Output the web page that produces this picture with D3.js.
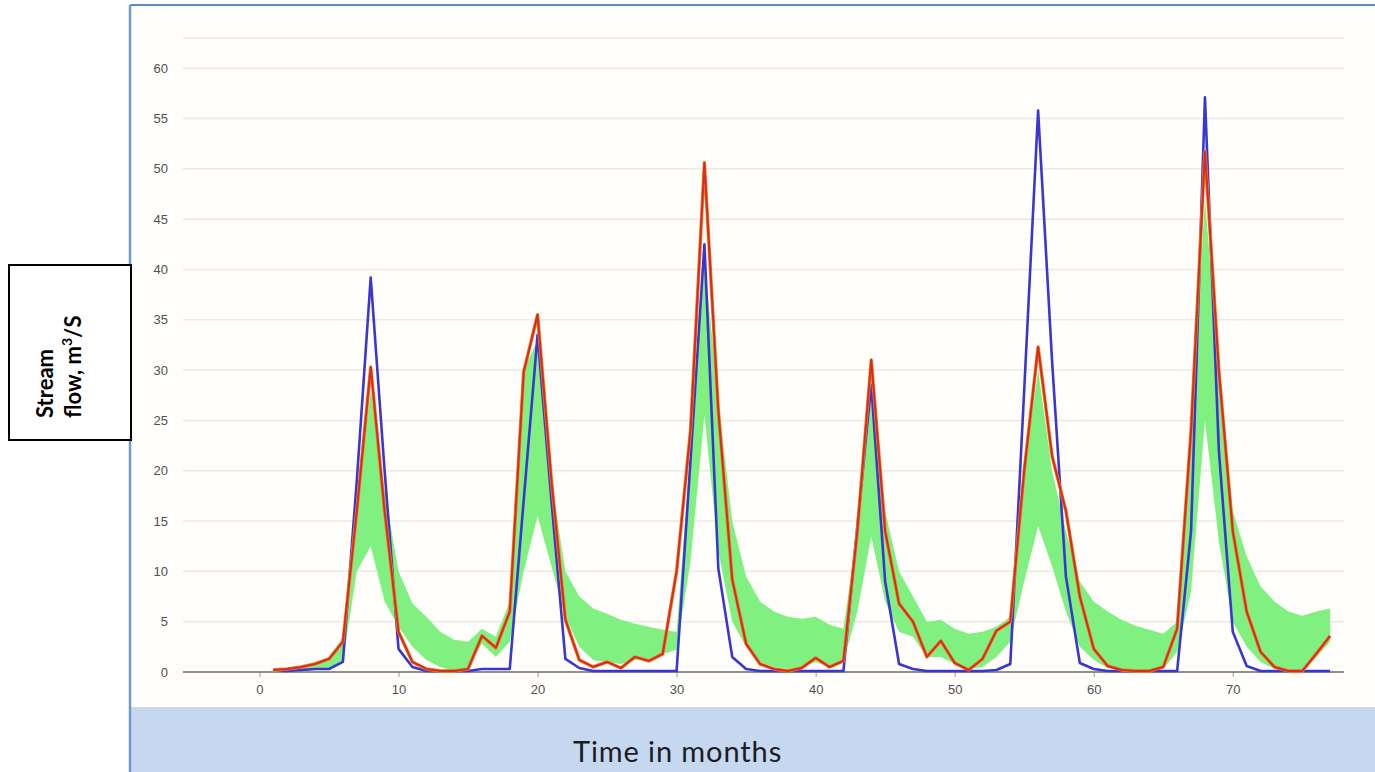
<!DOCTYPE html>
<html>
<head>
<meta charset="utf-8">
<script src="https://cdn.jsdelivr.net/npm/d3@7"></script>
<style>
  html, body { margin: 0; padding: 0; background: #ffffff; }
  svg { display: block; }
</style>
</head>
<body>
<svg id="chart" width="1375" height="772"></svg>
<script>
// ---------- DATA (months 1..77) ----------
const months = d3.range(1, 78);

const observed = [
  0.2, 0.1, 0.2, 0.3, 0.3, 1.0, 19, 39.2, 20, 2.3,
  0.5, 0.1, 0.1, 0.1, 0.1, 0.3, 0.3, 0.3, 17, 33.5,
  17, 1.3, 0.4, 0.1, 0.1, 0.1, 0.1, 0.1, 0.1, 0.1,
  21, 42.5, 10.3, 1.5, 0.3, 0.1, 0.1, 0.1, 0.1, 0.1,
  0.1, 0.1, 14.5, 28.5, 9, 0.8, 0.3, 0.1, 0.1, 0.1,
  0.1, 0.1, 0.2, 0.8, 28, 55.8, 31, 9.5, 0.9, 0.3,
  0.1, 0.1, 0.1, 0.1, 0.1, 0.1, 14, 57.1, 22, 4,
  0.6, 0.1, 0.1, 0.1, 0.1, 0.1, 0.1
];

const simulated = [
  0.2, 0.3, 0.5, 0.8, 1.3, 3.0, 16, 30.3, 16, 4.0,
  1.0, 0.3, 0.1, 0.1, 0.3, 3.6, 2.4, 6.0, 29.8, 35.5,
  19, 5.2, 1.2, 0.5, 1.0, 0.4, 1.5, 1.1, 1.8, 10,
  24, 50.6, 26, 9.2, 2.8, 0.8, 0.3, 0.1, 0.4, 1.4,
  0.5, 1.1, 14, 31, 14, 6.8, 5.0, 1.5, 3.1, 0.9,
  0.2, 1.3, 4.1, 5.0, 20, 32.3, 21.5, 16, 7.5, 2.3,
  0.6, 0.2, 0.1, 0.1, 0.5, 4.3, 24, 51.7, 30, 14,
  6, 2, 0.5, 0.1, 0.1, 1.8, 3.6
];

const bandLower = [
  0, 0, 0.1, 0.2, 0.4, 1.0, 10, 12.5, 7, 4.5,
  2.5, 1.2, 0.5, 0.1, 0.5, 2.8, 1.5, 3, 10, 15.5,
  10.5, 5.5, 2.5, 1.2, 1.0, 0.8, 1.2, 1.3, 1.8, 2.2,
  11, 25.5, 12, 5, 2.5, 1, 0.5, 0.3, 0.5, 1.0,
  0.5, 1.0, 6, 13.5, 7, 4, 3.5, 1.5, 1.5, 0.8,
  0.3, 0.5, 1.5, 3, 9, 14.5, 10.5, 6, 2.5, 1.2,
  0.4, 0.2, 0.1, 0.1, 0.3, 2, 8, 25, 13, 5,
  2.5, 1, 0.3, 0.1, 0.2, 1.5, 3
];

const bandUpper = [
  0.2, 0.3, 0.6, 1.0, 1.5, 3.5, 17, 28, 18, 10,
  6.8, 5.5, 4, 3.2, 3.0, 4.3, 3.5, 7, 30, 33,
  19, 10, 7.5, 6.3, 5.8, 5.2, 4.8, 4.5, 4.2, 4.0,
  22, 41, 27, 15, 9.5, 7, 6, 5.5, 5.3, 5.5,
  4.7, 4.3, 14, 27, 16, 10, 7.5, 5, 5.2, 4.3,
  3.8, 4, 4.5, 5.5, 20, 30, 20, 14, 9, 7,
  6, 5.2, 4.6, 4.2, 3.8, 5, 24, 47, 30, 16,
  11.5, 8.5, 7, 6, 5.6, 6, 6.3
];

const xTicks = [0, 10, 20, 30, 40, 50, 60, 70];
const yTicks = [0, 5, 10, 15, 20, 25, 30, 35, 40, 45, 50, 55, 60];
const xTitle = "Time in months";

// ---------- LAYOUT ----------
const svg = d3.select("#chart");

// panel background
svg.append("rect").attr("x", 130).attr("y", 5).attr("width", 1245).attr("height", 767)
  .attr("fill", "#fffefb");

// bottom band
svg.append("rect").attr("x", 131).attr("y", 707).attr("width", 1244).attr("height", 65)
  .attr("fill", "#c5d8ef");

// panel borders
svg.append("line").attr("x1", 130).attr("x2", 1375).attr("y1", 5).attr("y2", 5)
  .attr("stroke", "#5b8cc8").attr("stroke-width", 2);
svg.append("line").attr("x1", 130).attr("x2", 130).attr("y1", 5).attr("y2", 772)
  .attr("stroke", "#6f9ad0").attr("stroke-width", 2.5);

const x = d3.scaleLinear().domain([-5.5, 78]).range([183, 1344]);
const y = d3.scaleLinear().domain([0, 63]).range([672, 38]);

// plot area background
svg.append("rect").attr("x", x(-5.5)).attr("y", y(63)).attr("width", x(78) - x(-5.5))
  .attr("height", y(0) - y(63)).attr("fill", "#fffefa");

// gridlines
const grid = svg.append("g");
grid.selectAll("line").data(yTicks.filter(d => d > 0).concat([63])).join("line")
  .attr("x1", x(-5.5)).attr("x2", x(78))
  .attr("y1", d => y(d)).attr("y2", d => y(d))
  .attr("stroke", "#ebe9e4").attr("stroke-width", 1.5);

// y axis labels
const yAxis = d3.axisLeft(y).tickValues(yTicks).tickSize(0).tickPadding(0);
const gy = svg.append("g").attr("transform", "translate(168,0)").call(yAxis);
gy.select(".domain").remove();
gy.selectAll("text").attr("font-family", "Liberation Sans, Arial, sans-serif")
  .attr("font-size", 13).attr("fill", "#505050");

// x axis
const xAxis = d3.axisBottom(x).tickValues(xTicks).tickSize(5).tickPadding(8);
const gx = svg.append("g").attr("transform", `translate(0,${y(0)})`).call(xAxis);
gx.select(".domain").remove();
gx.selectAll(".tick line").attr("stroke", "#9a9a9a");
gx.selectAll("text").attr("font-family", "Liberation Sans, Arial, sans-serif")
  .attr("font-size", 13).attr("fill", "#505050");

// baseline
svg.append("line").attr("x1", x(-5.5)).attr("x2", x(78)).attr("y1", y(0)).attr("y2", y(0))
  .attr("stroke", "#6a6a6a").attr("stroke-width", 1.5);

// band
const rows = months.map((m, i) => ({ m, lo: bandLower[i], hi: bandUpper[i], obs: observed[i], sim: simulated[i] }));
const area = d3.area().x(d => x(d.m)).y0(d => y(d.lo)).y1(d => y(d.hi));
svg.append("path").datum(rows).attr("d", area).attr("fill", "#80f080").attr("stroke", "none");

// observed (blue)
const lineObs = d3.line().x(d => x(d.m)).y(d => y(d.obs));
svg.append("path").datum(rows).attr("d", lineObs).attr("fill", "none")
  .attr("stroke", "#3a36d2").attr("stroke-width", 2.6).attr("stroke-linejoin", "round");

// simulated (red with orange halo)
const lineSim = d3.line().x(d => x(d.m)).y(d => y(d.sim));
svg.append("path").datum(rows).attr("d", lineSim).attr("fill", "none")
  .attr("stroke", "#e8842a").attr("stroke-width", 3.4).attr("stroke-linejoin", "round");
svg.append("path").datum(rows).attr("d", lineSim).attr("fill", "none")
  .attr("stroke", "#dc2a1c").attr("stroke-width", 2).attr("stroke-linejoin", "round");

// x title
svg.append("text").attr("x", 573).attr("y", 762).text(xTitle)
  .attr("font-family", "Lato, 'Open Sans', sans-serif").attr("font-size", 29)
  .attr("letter-spacing", 0.9).attr("fill", "#1c1c24");

// y title box
svg.append("rect").attr("x", 9).attr("y", 265).attr("width", 122).attr("height", 175)
  .attr("fill", "#ffffff").attr("stroke", "#000000").attr("stroke-width", 2);
svg.append("text").attr("transform", "translate(53,418) rotate(-90)")
  .attr("font-family", "Lato, 'Open Sans', sans-serif").attr("font-weight", "bold")
  .attr("font-size", 22).attr("fill", "#000").text("Stream");
const t2 = svg.append("text").attr("transform", "translate(81,418) rotate(-90)")
  .attr("font-family", "Lato, 'Open Sans', sans-serif").attr("font-weight", "bold")
  .attr("font-size", 22).attr("fill", "#000");
t2.append("tspan").text("flow, m");
t2.append("tspan").attr("dy", -9).attr("font-size", 14).text("3");
t2.append("tspan").attr("dy", 9).text("/S");
</script>
</body>
</html>
